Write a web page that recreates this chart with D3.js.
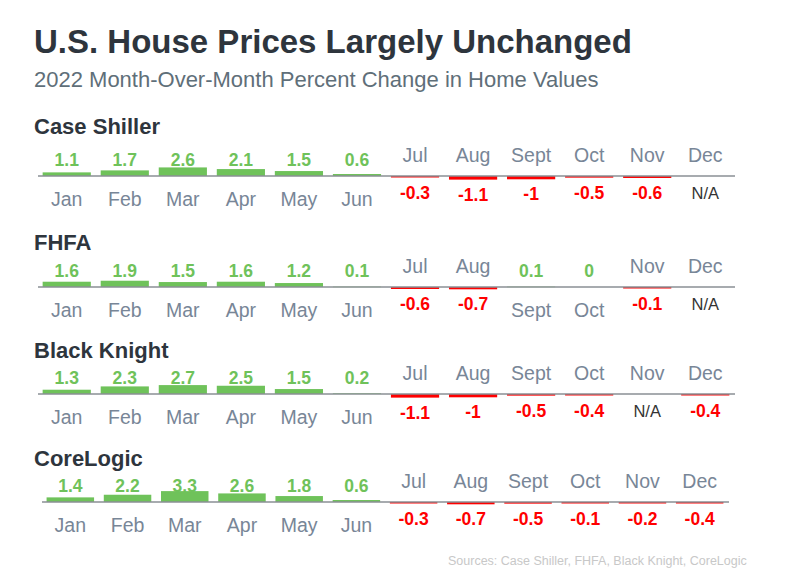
<!DOCTYPE html>
<html>
<head>
<meta charset="utf-8">
<script src="https://cdn.jsdelivr.net/npm/d3@7"></script>
<style>
  html, body { margin: 0; padding: 0; background: #fff; }
  svg { display: block; font-family: "Liberation Sans", Arial, sans-serif; }
</style>
</head>
<body>
<div id="chart"></div>
<script>
// data
const months = ["Jan", "Feb", "Mar", "Apr", "May", "Jun", "Jul", "Aug", "Sept", "Oct", "Nov", "Dec"];
const sources = ["Case Shiller", "FHFA", "Black Knight", "CoreLogic"];
const caseShiller = [1.1, 1.7, 2.6, 2.1, 1.5, 0.6, -0.3, -1.1, -1, -0.5, -0.6, null];
const fhfa = [1.6, 1.9, 1.5, 1.6, 1.2, 0.1, -0.6, -0.7, 0.1, 0, -0.1, null];
const blackKnight = [1.3, 2.3, 2.7, 2.5, 1.5, 0.2, -1.1, -1, -0.5, -0.4, null, -0.4];
const coreLogic = [1.4, 2.2, 3.3, 2.6, 1.8, 0.6, -0.3, -0.7, -0.5, -0.1, -0.2, -0.4];
const seriesValues = [caseShiller, fhfa, blackKnight, coreLogic];

// layout
const width = 800, height = 568;
const axisY = [176, 287, 394, 502];
const titleY = [134, 250, 358, 466];
const xRanges = [[38, 734], [38, 734], [38, 734], [42, 728]];

const green = "#6fc25a";
const red = "#ff0000";
const monthColor = "#788697";

const svg = d3.select("#chart").append("svg")
    .attr("width", width)
    .attr("height", height);

svg.append("text")
    .attr("x", 34).attr("y", 53)
    .attr("font-size", 33).attr("font-weight", "bold")
    .attr("fill", "#2e353d")
    .text("U.S. House Prices Largely Unchanged");

svg.append("text")
    .attr("x", 34).attr("y", 87)
    .attr("font-size", 22)
    .attr("fill", "#5f6f79")
    .text("2022 Month-Over-Month Percent Change in Home Values");

// bar height per percent point
const h = d3.scaleLinear().domain([0, 1]).range([0, 3.3]);

sources.forEach((name, i) => {
    const base = axisY[i];
    const x = d3.scaleBand()
        .domain(months)
        .range(xRanges[i])
        .paddingInner(0.17)
        .paddingOuter(0.08);

    const data = months.map((m, j) => ({month: m, value: seriesValues[i][j]}));
    const g = svg.append("g");

    g.append("text")
        .attr("x", 34).attr("y", titleY[i])
        .attr("font-size", 22).attr("font-weight", "bold")
        .attr("fill", "#2e353d")
        .text(name);

    // bars
    g.selectAll("rect")
        .data(data.filter(d => d.value !== null && d.value !== 0))
        .join("rect")
        .attr("x", d => x(d.month))
        .attr("width", x.bandwidth())
        .attr("y", d => d.value > 0 ? base - h(d.value) : base)
        .attr("height", d => Math.max(h(Math.abs(d.value)), d.value < 0 ? 1.5 : 0.5))
        .attr("fill", d => d.value > 0 ? green : red);

    // axis line
    g.append("line")
        .attr("x1", xRanges[i][0]).attr("x2", xRanges[i][1] + 1)
        .attr("y1", base).attr("y2", base)
        .attr("stroke", "#8a8f94")
        .attr("stroke-width", 1.3);

    // value labels
    g.selectAll(".val")
        .data(data)
        .join("text")
        .attr("class", "val")
        .attr("x", d => x(d.month) + x.bandwidth() / 2)
        .attr("y", d => {
            if (d.value === null) return base + 23;
            if (d.value >= 0) return base - 10;
            return base + Math.max(h(-d.value), 1.5) + 21;
        })
        .attr("text-anchor", "middle")
        .attr("font-size", d => d.value === null ? 16.5 : 17.5)
        .attr("font-weight", d => d.value === null ? "normal" : "bold")
        .attr("fill", d => d.value === null ? "#333" : (d.value >= 0 ? green : red))
        .text(d => d.value === null ? "N/A" : String(d.value));

    // month labels: below axis for gains, above it for losses
    g.selectAll(".mon")
        .data(data)
        .join("text")
        .attr("class", "mon")
        .attr("x", d => x(d.month) + x.bandwidth() / 2)
        .attr("y", d => (d.value !== null && d.value >= 0) ? base + 30 : base - 14)
        .attr("text-anchor", "middle")
        .attr("font-size", 19.5)
        .attr("fill", monthColor)
        .text(d => d.month);
});

svg.append("text")
    .attr("x", 448).attr("y", 565)
    .attr("font-size", 12.5)
    .attr("fill", "#c8c8c8")
    .text("Sources: Case Shiller, FHFA, Black Knight, CoreLogic");
</script>
</body>
</html>
